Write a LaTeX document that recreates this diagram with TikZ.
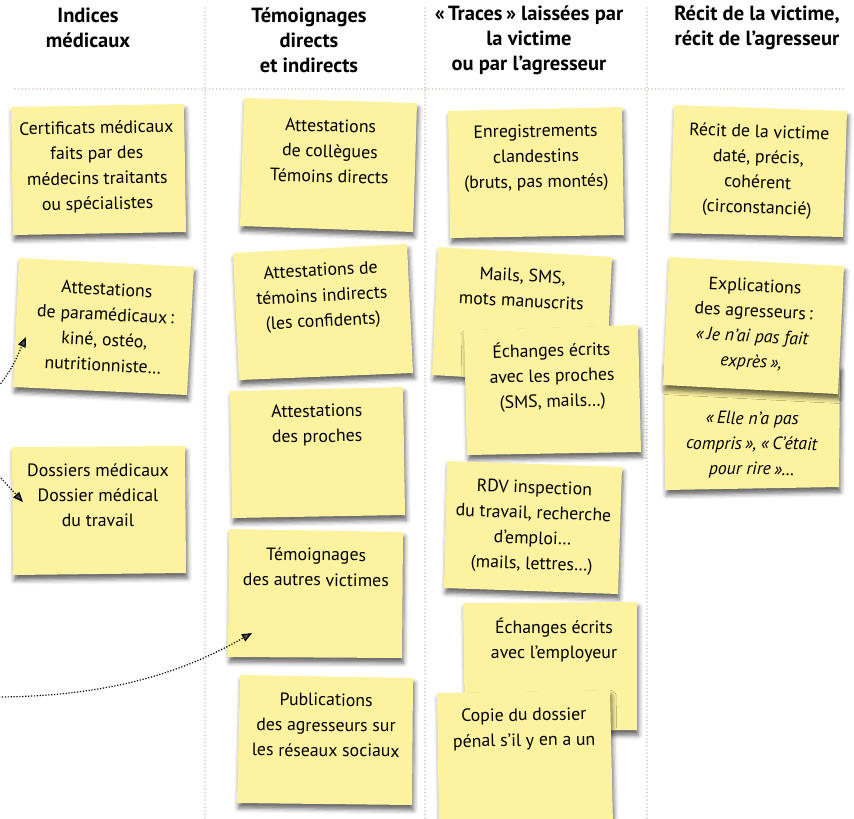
\documentclass[tikz,border=0pt]{standalone}
\usepackage{fontspec}
\setmainfont{PT Sans}
\usetikzlibrary{arrows.meta,shadows.blur}
\definecolor{notey}{RGB}{253,242,160}
\definecolor{sepcol}{RGB}{212,196,186}
\tikzset{
  notepaper/.style={fill=notey, blur shadow={shadow xshift=1.5pt, shadow yshift=-5pt, shadow blur radius=4.5pt, shadow opacity=60}},
  txt/.style={align=center, inner sep=0pt, font=\fontsize{17.8}{25.3}\selectfont},
  head/.style={align=center, inner sep=0pt, font=\fontsize{20.5}{24.8}\selectfont\bfseries},
  sepline/.style={sepcol, line width=1.7pt, line cap=round, dash pattern=on 0pt off 3.6pt},
  arr/.style={line width=1.2pt, dash pattern=on 1.2pt off 1.7pt, -{Triangle[length=10pt,width=8pt]}}
}
\begin{document}
\begin{tikzpicture}[x=1pt,y=-1pt]
\useasboundingbox (0,0) rectangle (854,819);
% separators
\draw[sepline] (205,8) -- (205,819);
\draw[sepline] (425,8) -- (425,819);
\draw[sepline] (647,8) -- (647,819);
\draw[sepline] (15,89) -- (845,89);
% headers
\node[head] (h1) at (88,28) {Indices\\médicaux};
\node[head] (h2) at (309,40) {Témoignages\\directs\\et indirects};
\node[head] (h3) at (529,40) {«\,Traces\,» laissées par\\la victime\\ou par l’agresseur};
\node[head] (h4) at (757,28) {Récit de la victime,\\récit de l’agresseur};
% column 1
\path[notepaper] (11,107) -- (184,104) -- (186,232) -- (13,235) -- cycle;
\node[txt, rotate=1] (n1) at (97,167) {Certificats médicaux\\faits par des\\médecins traitants\\ou spécialistes};
\path[notepaper] (19,258) -- (194,267) -- (187,395) -- (13,387) -- cycle;
\node[txt, rotate=-3] (n2) at (105,327) {Attestations\\de paramédicaux\,:\\kiné, ostéo,\\nutritionniste…};
\path[notepaper] (12,447) -- (185,446) -- (186,573) -- (13,575) -- cycle;
\node[txt] (n3) at (98,495) {Dossiers médicaux\\Dossier médical\\du travail};
% column 2
\path[notepaper] (244,98) -- (417,103) -- (413,232) -- (240,226) -- cycle;
\node[txt, rotate=-1.5] (n4) at (330,151) {Attestations\\de collègues\\Témoins directs};
\path[notepaper] (233,253) -- (407,244) -- (413,373) -- (239,380) -- cycle;
\node[txt, rotate=3] (n5) at (322,297) {Attestations de\\témoins indirects\\(les confidents)};
\path[notepaper] (230,391) -- (403,387) -- (405,515) -- (232,518) -- cycle;
\node[txt, rotate=1] (n6) at (317,425) {Attestations\\des proches};
\path[notepaper] (229,529) -- (403,532) -- (402,658) -- (228,657) -- cycle;
\node[txt, rotate=-0.5] (n7) at (316,567) {Témoignages\\des autres victimes};
\path[notepaper] (240,675) -- (413,678) -- (412,805) -- (237,803) -- cycle;
\node[txt, rotate=-0.5] (n8) at (326,725) {Publications\\des agresseurs sur\\les réseaux sociaux};
% column 3
\path[notepaper] (448,111) -- (622,107) -- (624,235) -- (450,238) -- cycle;
\node[txt, rotate=1] (n9) at (536,158) {Enregistrements\\clandestins\\(bruts, pas montés)};
\path[notepaper] (438,247) -- (612,257) -- (606,385) -- (432,375) -- cycle;
\node[txt, rotate=-3] (n10) at (522,288) {Mails, SMS,\\mots manuscrits};
\path[notepaper] (464,330) -- (638,325) -- (641,452) -- (467,455) -- cycle;
\node[txt, rotate=1.5] (n11) at (552,376) {Échanges écrits\\avec les proches\\(SMS, mails…)};
\path[notepaper] (447,461) -- (622,467) -- (618,594) -- (444,588) -- cycle;
\node[txt, rotate=-2] (n12) at (533,527) {RDV inspection\\du travail, recherche\\d’emploi…\\(mails, lettres…)};
\path[notepaper] (463,603) -- (637,602) -- (637,730) -- (465,732) -- cycle;
\node[txt] (n13) at (554,640) {Échanges écrits\\avec l’employeur};
\path[notepaper] (437,693) -- (610,690) -- (613,825) -- (439,828) -- cycle;
\node[txt, rotate=1] (n14) at (524,729) {Copie du dossier\\pénal s’il y en a un};
% column 4
\path[notepaper] (674,105) -- (847,111) -- (843,237) -- (670,233) -- cycle;
\node[txt, rotate=-2] (n15) at (758,171) {Récit de la victime\\daté, précis,\\cohérent\\(circonstancié)};
\path[notepaper] (664,362) -- (840,366) -- (839,487) -- (665,490) -- cycle;
\node[txt, rotate=-0.5] (n17) at (752,445) {\textit{«\,Elle n’a pas}\\\textit{compris\,», «\,C’était}\\\textit{pour rire\,»…}};
\path[notepaper] (669,257) -- (844,266) -- (838,394) -- (663,385) -- cycle;
\node[txt, rotate=-3] (n16) at (753,325) {Explications\\des agresseurs\,:\\\textit{«\,Je n’ai pas fait}\\\textit{exprès\,»,}};
% arrows
\coordinate (a1s) at (-1,386);
\coordinate (a1e) at (26,337);
\coordinate (a2s) at (-1,476);
\coordinate (a2e) at (23,502);
\coordinate (a3s) at (-1,697);
\coordinate (a3e) at (252,633);
\draw[arr] (a1s) .. controls (12,368) .. (a1e);
\draw[arr] (a2s) -- (a2e);
\draw[arr] (a3s) .. controls (120,696) and (190,668) .. (a3e);
\end{tikzpicture}
\end{document}
